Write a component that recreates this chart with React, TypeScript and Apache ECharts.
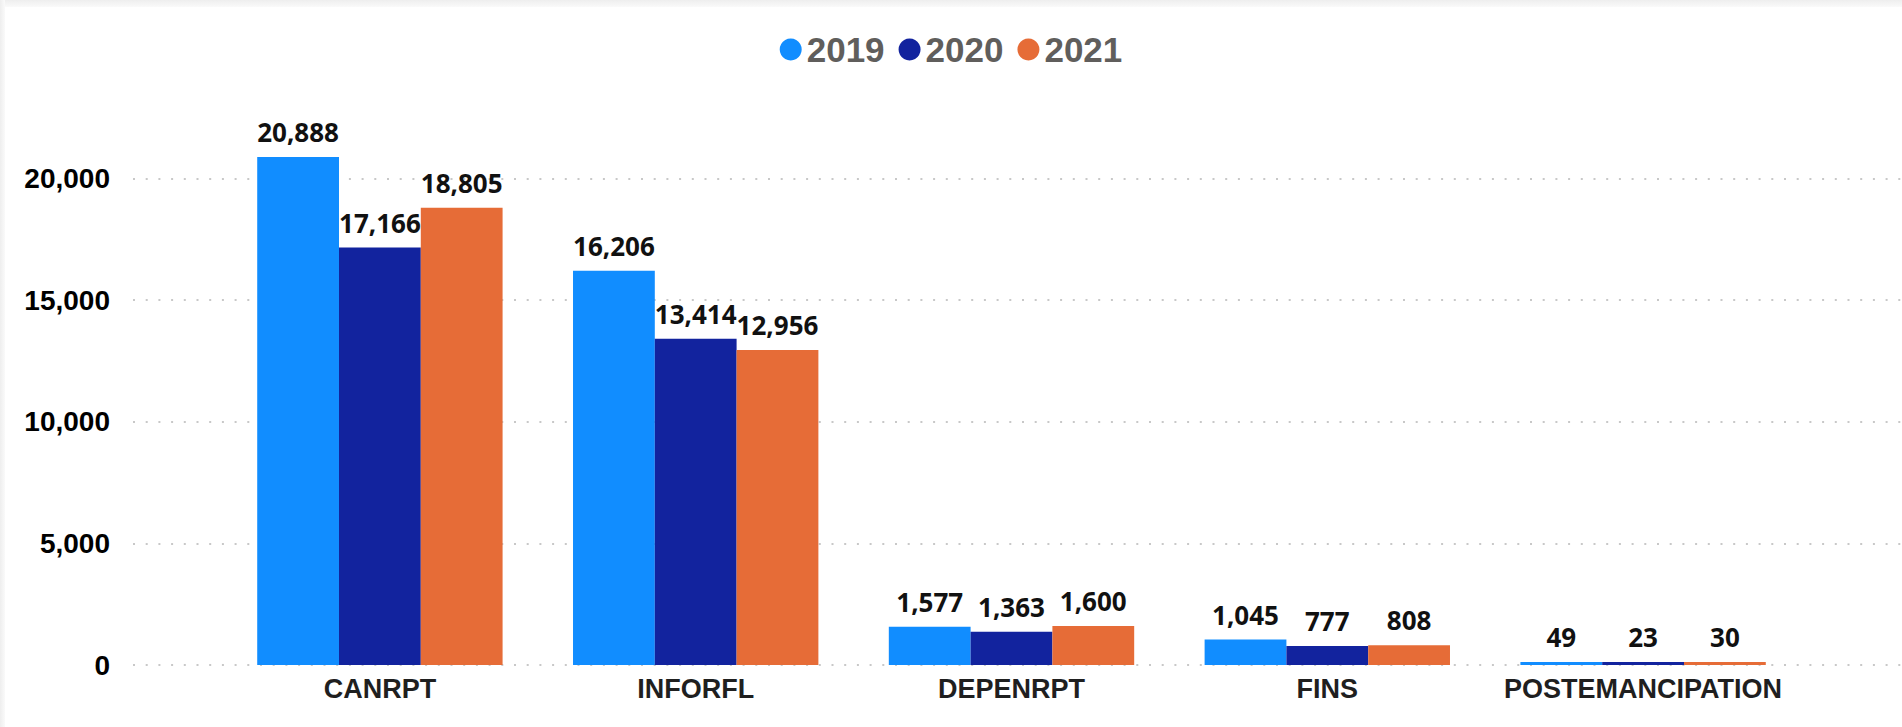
import React, { useEffect, useRef } from "react";
import * as echarts from "echarts";

const categories = ["CANRPT", "INFORFL", "DEPENRPT", "FINS", "POSTEMANCIPATION"];
const seriesNames = ["2019", "2020", "2021"];
const values2019 = [20888, 16206, 1577, 1045, 49];
const values2020 = [17166, 13414, 1363, 777, 23];
const values2021 = [18805, 12956, 1600, 808, 30];
const colors = ["#118DFF", "#12239E", "#E66C37"];

const Y_MAX = 25000;
const Y_INTERVAL = 5000;

export default function App() {
  const ref = useRef<HTMLDivElement>(null);

  useEffect(() => {
    if (!ref.current) return;
    const chart = echarts.init(ref.current, undefined, { renderer: "svg" });
    const allValues = [values2019, values2020, values2021];
    const fmt = (v: number) => v.toLocaleString("en-US");

    chart.setOption({
      animation: false,
      legend: {
        left: "center",
        top: 27,
        icon: "circle",
        itemWidth: 22,
        itemHeight: 22,
        itemGap: 14,
        data: seriesNames,
        textStyle: {
          fontFamily: "Liberation Sans, Arial, sans-serif",
          fontWeight: "bold",
          fontSize: 35,
          color: "#605E5C",
        },
      },
      grid: [
        { left: 222, right: 101, top: 57, bottom: 62, containLabel: false },
        { left: 133, right: 0, top: 57, bottom: 62, containLabel: false },
      ],
      xAxis: [
        {
          type: "category",
          gridIndex: 0,
          data: categories,
          axisLine: { show: false },
          axisTick: { show: false },
          axisLabel: {
            interval: 0,
            margin: 10,
            fontFamily: "Liberation Sans, Arial, sans-serif",
            fontWeight: "bold",
            fontSize: 27,
            color: "#1F1F1F",
          },
        },
        { type: "value", gridIndex: 1, min: 0, max: 1, show: false },
      ],
      yAxis: [
        {
          type: "value",
          gridIndex: 0,
          min: 0,
          max: Y_MAX,
          interval: Y_INTERVAL,
          show: false,
          splitLine: { show: false },
        },
        {
          type: "value",
          gridIndex: 1,
          min: 0,
          max: Y_MAX,
          interval: Y_INTERVAL,
          axisLine: { show: false },
          axisTick: { show: false },
          axisLabel: {
            margin: 23,
            showMaxLabel: false,
            formatter: (v: number) => (v >= Y_MAX ? "" : fmt(v)),
            fontFamily: "Liberation Sans, Arial, sans-serif",
            fontWeight: "bold",
            fontSize: 28,
            color: "#000000",
          },
          splitLine: {
            show: true,
            showMaxLine: false,
            lineStyle: { color: "#C8C8C8", width: 2, type: [2, 10.7] },
          },
        },
      ],
      series: seriesNames.map((name, i) => ({
        name,
        type: "bar",
        xAxisIndex: 0,
        yAxisIndex: 0,
        data: allValues[i],
        barGap: "0%",
        barCategoryGap: "22.3%",
        barMinHeight: 3,
        itemStyle: { color: colors[i] },
        label: {
          show: true,
          position: "top",
          distance: 12,
          formatter: (p: any) => fmt(p.value),
          fontFamily: "Noto Sans, Open Sans, sans-serif",
          fontWeight: "bold",
          fontSize: 26,
          color: "#111111",
        },
      })),
    });

    return () => chart.dispose();
  }, []);

  return (
    <div style={{ position: "fixed", left: 0, top: 0, width: 1902, height: 727, background: "#ffffff" }}>
      <div
        style={{
          position: "absolute",
          left: 0,
          top: 0,
          width: 1902,
          height: 7,
          background: "linear-gradient(#eeeeee, #fafafa)",
        }}
      />
      <div
        style={{
          position: "absolute",
          left: 0,
          top: 0,
          width: 5,
          height: 727,
          background: "linear-gradient(to right, #eeeeee, #fafafa)",
        }}
      />
      <div ref={ref} style={{ position: "absolute", left: 0, top: 0, width: 1902, height: 727 }} />
    </div>
  );
}
